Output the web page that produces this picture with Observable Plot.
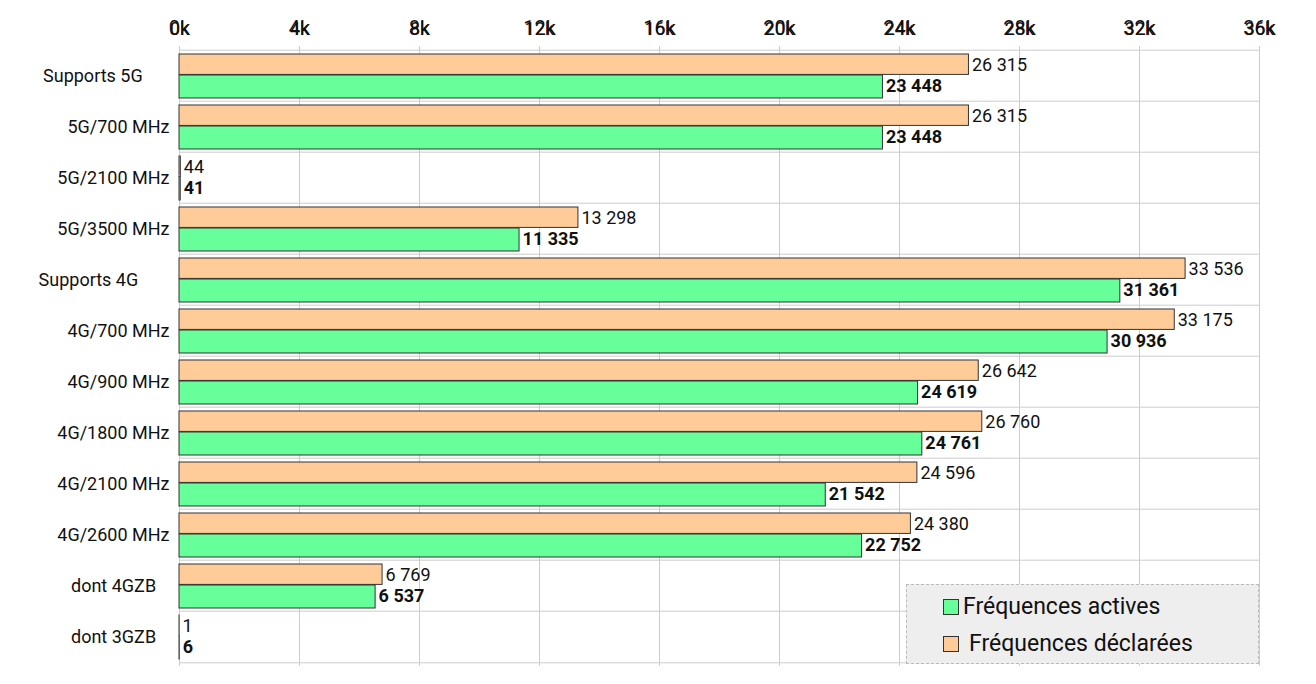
<!DOCTYPE html>
<html><head><meta charset="utf-8">
<script src="https://cdn.jsdelivr.net/npm/d3@7"></script>
<script src="https://cdn.jsdelivr.net/npm/@observablehq/plot@0.6"></script>
<style>body{margin:0;background:#fff;font-family:Roboto,sans-serif}#wrap{position:relative;width:1316px;height:684px}
#legend{position:absolute;left:906px;top:584px;width:351px;height:78px;background:#eee;border:1px dashed #bbb;font-size:23px;color:#111}
.it{position:absolute;left:36px;display:flex;align-items:center}
.sw{width:14px;height:14px;border:1px solid #333;margin-right:4px}
</style></head><body><div id="wrap"><div id="legend">
<div class="it" style="top:8px"><div class="sw" style="background:#66ff99"></div>Fréquences actives</div>
<div class="it" style="top:45px"><div class="sw" style="background:#ffcc99;margin-right:10px"></div>Fréquences déclarées</div></div></div>
<script>
const categories=["Supports 5G","5G/700 MHz","5G/2100 MHz","5G/3500 MHz","Supports 4G","4G/700 MHz","4G/900 MHz","4G/1800 MHz","4G/2100 MHz","4G/2600 MHz","dont 4GZB","dont 3GZB"];
const declared=[26315,26315,44,13298,33536,33175,26642,26760,24596,24380,6769,1];
const active=[23448,23448,41,11335,31361,30936,24619,24761,21542,22752,6537,6];
const xTicks=[0,4000,8000,12000,16000,20000,24000,28000,32000,36000];
const pad={"Supports 5G":6,"Supports 4G":7,"dont 4GZB":3,"dont 3GZB":3};
const D=categories.map((c,i)=>({c,v:declared[i]})), A=categories.map((c,i)=>({c,v:active[i]}));
const fmt=v=>d3.format(",")(v).replace(/,/g," ");
const bw=51.6;
const chart=Plot.plot({width:1316,height:684,marginLeft:179,marginRight:57,marginTop:46,marginBottom:18,
 style:{fontFamily:"Roboto,sans-serif",fontSize:"18px",color:"#111"},
 x:{domain:[0,36000],axis:"top",ticks:xTicks,tickFormat:d=>d/1000+"k",label:null,tickSize:0,tickPadding:12,grid:false},
 y:{domain:categories,padding:0,label:null,tickSize:0,tickPadding:10,tickFormat:d=>d+"\u00a0".repeat(pad[d]||0)},
 marks:[
  Plot.ruleX(xTicks,{stroke:"#ccc",strokeWidth:1}),
  Plot.ruleY(categories,{dy:-bw/2,stroke:"#ccc"}),
  Plot.ruleY([categories[11]],{dy:bw/2,stroke:"#ccc"}),
  Plot.barX(D,{y:"c",x:"v",fill:"#ffcc99",stroke:"#333",strokeWidth:1,insetTop:4,insetBottom:26.6}),
  Plot.barX(A,{y:"c",x:"v",fill:"#66ff99",stroke:"#333",strokeWidth:1,insetTop:25,insetBottom:3}),
  Plot.text(D,{y:"c",x:"v",text:d=>fmt(d.v),textAnchor:"start",dx:3,dy:-11,fontSize:18}),
  Plot.text(A,{y:"c",x:"v",text:d=>fmt(d.v),textAnchor:"start",dx:3,dy:10,fontSize:18,fontWeight:"bold"}),
  Plot.axisX({anchor:"top",ticks:xTicks,tickFormat:d=>d/1000+"k",tickSize:0,tickPadding:12,fontSize:20,label:null})
 ]});
document.getElementById("wrap").prepend(chart);
chart.style.position="absolute";chart.style.left="0";chart.style.top="0";
</script></body></html>
